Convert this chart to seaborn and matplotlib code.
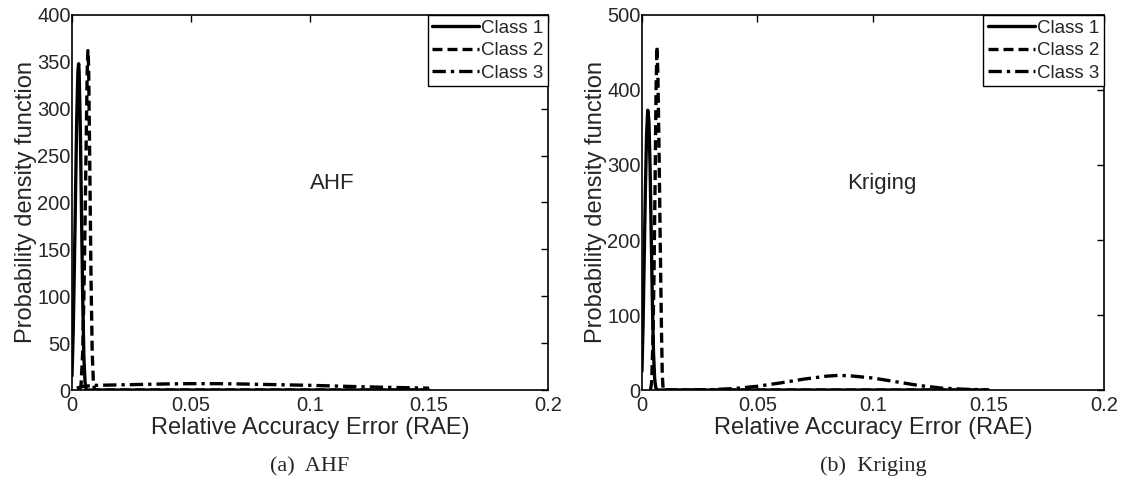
import numpy as np
import pandas as pd
import matplotlib
matplotlib.use("Agg")
import matplotlib.pyplot as plt
import seaborn as sns

# DATA

classes = ["Class 1", "Class 2", "Class 3"]

# (a) AHF
ahf_c1_x = [0, 0.0005, 0.001, 0.0015, 0.002, 0.0025, 0.0028, 0.003, 0.0035, 0.004, 0.0045, 0.005, 0.0055, 0.006, 0.15]
ahf_c1_y = [15, 60, 130, 210, 290, 340, 348, 340, 280, 190, 100, 35, 8, 0, 0]
ahf_c2_x = [0.003, 0.0038, 0.0045, 0.005, 0.0055, 0.006, 0.0064, 0.0067, 0.007, 0.0075, 0.008, 0.0085, 0.009, 0.0095, 0.15]
ahf_c2_y = [0, 5, 40, 100, 180, 270, 340, 362, 345, 235, 120, 40, 8, 0, 0]
ahf_c3_x = [0.002, 0.005, 0.01, 0.02, 0.03, 0.04, 0.05, 0.06, 0.07, 0.08, 0.09, 0.1, 0.11, 0.12, 0.13, 0.14, 0.15]
ahf_c3_y = [2, 4, 5, 5.5, 6, 6.5, 6.8, 6.8, 6.5, 6, 5.5, 5, 4.3, 3.6, 3, 2.5, 2]

# (b) Kriging
kri_c1_x = [0, 0.0005, 0.001, 0.0015, 0.002, 0.0025, 0.003, 0.0035, 0.004, 0.0045, 0.005, 0.0055, 0.006, 0.0065, 0.15]
kri_c1_y = [25, 90, 180, 270, 340, 373, 360, 300, 210, 120, 50, 15, 3, 0, 0]
kri_c2_x = [0.0037, 0.0042, 0.0047, 0.0052, 0.0057, 0.0061, 0.0065, 0.0069, 0.0074, 0.0079, 0.0084, 0.0088, 0.0092, 0.15]
kri_c2_y = [0, 10, 60, 150, 280, 400, 458, 420, 320, 200, 90, 20, 0, 0]
kri_c3_x = [0.01, 0.02, 0.03, 0.04, 0.05, 0.06, 0.07, 0.08, 0.085, 0.09, 0.1, 0.11, 0.12, 0.13, 0.14, 0.15]
kri_c3_y = [0, 0.1, 0.5, 2, 5, 9.5, 14.5, 18.5, 19.5, 19, 16, 11, 6, 2.5, 1, 0.3]

ahf_ticks_y = [0, 50, 100, 150, 200, 250, 300, 350, 400]
kri_ticks_y = [0, 100, 200, 300, 400, 500]
x_ticks = [0, 0.05, 0.1, 0.15, 0.2]
x_tick_labels = ["0", "0.05", "0.1", "0.15", "0.2"]


def make_frame(xs, ys):
    rows = []
    for name, x, y in zip(classes, xs, ys):
        rows.append(pd.DataFrame({"RAE": x, "pdf": y, "cls": name}))
    return pd.concat(rows, ignore_index=True)


df_ahf = make_frame([ahf_c1_x, ahf_c2_x, ahf_c3_x], [ahf_c1_y, ahf_c2_y, ahf_c3_y])
df_kri = make_frame([kri_c1_x, kri_c2_x, kri_c3_x], [kri_c1_y, kri_c2_y, kri_c3_y])

# STYLE

sns.set_style("white")
plt.rcParams["font.family"] = ["Liberation Sans", "DejaVu Sans"]
plt.rcParams["axes.linewidth"] = 1.2

dash_map = {"Class 1": "", "Class 2": (3, 1.5), "Class 3": (4, 1.5, 1, 1.5)}

fig = plt.figure(figsize=(11.37, 4.83), dpi=100)
ax1 = fig.add_axes([0.0633, 0.1925, 0.4187, 0.7765])
ax2 = fig.add_axes([0.5646, 0.1925, 0.4063, 0.7765])

panels = [
    (ax1, df_ahf, 400, ahf_ticks_y, "AHF", (0.1, 220), "(a)  AHF"),
    (ax2, df_kri, 500, kri_ticks_y, "Kriging", (0.089, 275), "(b)  Kriging"),
]

for ax, df, ymax, yt, label, pos, caption in panels:
    sns.lineplot(data=df, x="RAE", y="pdf", style="cls", dashes=dash_map,
                 color="black", linewidth=2.4, estimator=None, sort=False, ax=ax)
    ax.set_xlim(0, 0.2)
    ax.set_ylim(0, ymax)
    ax.set_xticks(x_ticks)
    ax.set_xticklabels(x_tick_labels)
    ax.set_yticks(yt)
    ax.tick_params(direction="in", top=True, right=True, length=5, width=1,
                   labelsize=14.5, color="black", pad=1)
    ax.tick_params(axis="x", pad=4)
    for sp in ax.spines.values():
        sp.set_color("black")
    ax.set_xlabel("Relative Accuracy Error (RAE)", fontsize=17, labelpad=2)
    ax.set_ylabel("Probability density function", fontsize=17, labelpad=0)
    ax.text(pos[0], pos[1], label, fontsize=16, ha="left", va="center")
    sns.move_legend(ax, "upper right", title=None, frameon=True, fancybox=False,
                    edgecolor="black", framealpha=1, fontsize=13.5, handlelength=2.5,
                    handletextpad=0.1, borderpad=0.25, labelspacing=0.28,
                    borderaxespad=0.0)
    ax.get_legend().get_frame().set_linewidth(1.0)
    bb = ax.get_position()
    fig.text(bb.x0 + bb.width / 2, 0.034, caption, ha="center", va="center",
             fontsize=16, family=["Liberation Serif", "DejaVu Serif"])

fig.savefig("out.png", dpi=100)
